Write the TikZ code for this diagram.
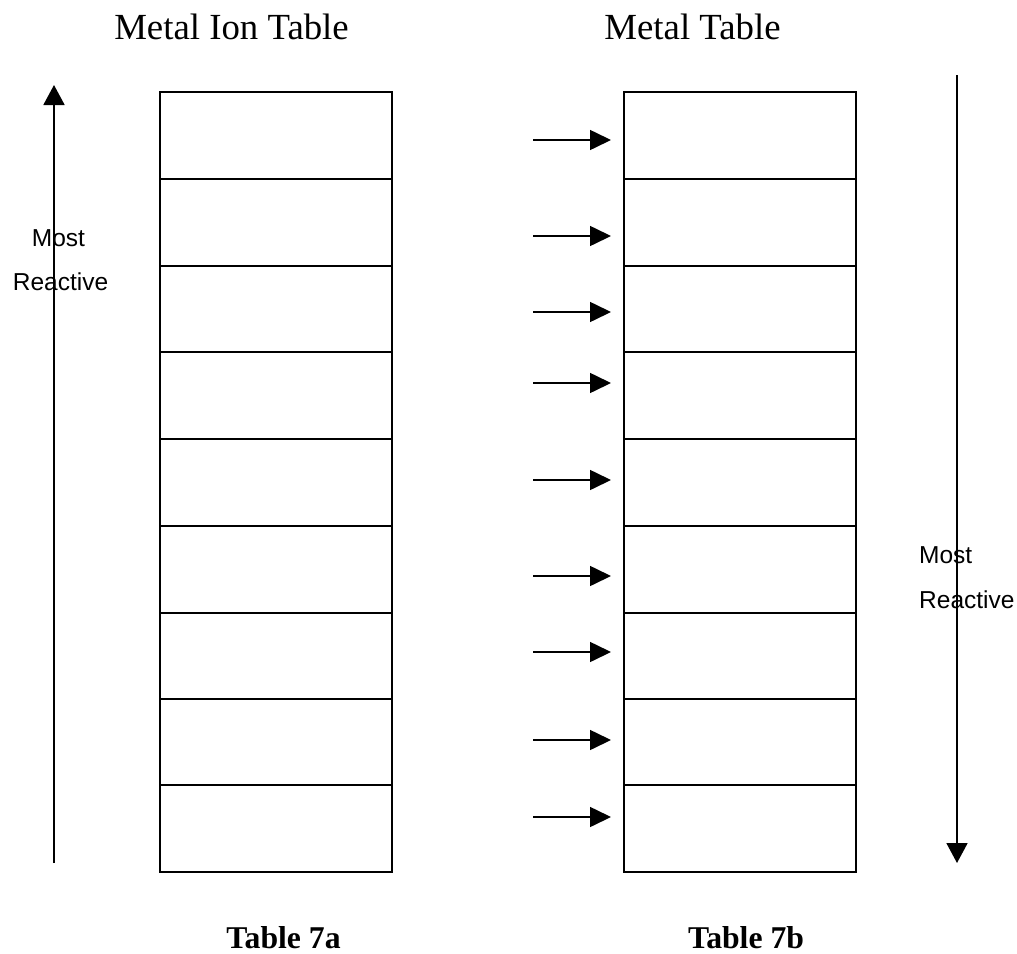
\documentclass[tikz,border=0pt]{standalone}
\usepackage{fontspec}
\setmainfont{Liberation Serif}
\newfontfamily\arialfont{Liberation Sans}
\usetikzlibrary{arrows.meta}
\tikzset{
  cell/.style={draw, line width=2pt, minimum width=232pt, inner sep=0pt},
  title/.style={anchor=base, inner sep=0pt, font=\fontsize{36.8}{44}\selectfont},
  caption/.style={anchor=base, inner sep=0pt, font=\fontsize{31.7}{38}\selectfont\bfseries},
  side/.style={anchor=base west, inner sep=0pt, font=\arialfont\fontsize{24.5}{30}\selectfont},
  longarrow/.style={line width=1.8pt, -{Triangle[length=20pt,width=21pt]}},
  shortarrow/.style={line width=1.6pt, -{Triangle[length=21pt,width=20pt]}}
}
\begin{document}
\begin{tikzpicture}[x=1pt,y=-1pt]
\useasboundingbox (0,0) rectangle (1017,953);
% titles
\node[title] (t1) at (231.5,39) {Metal Ion Table};
\node[title] (t2) at (692.5,39) {Metal Table};
% captions
\node[caption] (c1) at (283.5,948) {Table 7a};
\node[caption] (c2) at (746,948) {Table 7b};
% cells
\foreach \a/\b [count=\i] in {92/179,179/266,266/352,352/439,439/526,526/613,613/699,699/785,785/872}{
  \node[cell, minimum height={(\b-\a)*1pt}] (L\i) at (276,{(\a+\b)/2}) {};
  \node[cell, minimum height={(\b-\a)*1pt}] (R\i) at (740,{(\a+\b)/2}) {};
}
% side labels
\node[side] (lm) at (31.7,246) {Most};
\node[side] (lr) at (12.7,290) {Reactive};
\node[side] (rm) at (919,563) {Most};
\node[side] (rr) at (919,608) {Reactive};
% long arrows
\coordinate (la0) at (54,863);
\coordinate (la1) at (54,85);
\draw[longarrow] (la0) -- (la1);
\coordinate (ra0) at (957,75);
\coordinate (ra1) at (957,863);
\draw[longarrow] (ra0) -- (ra1);
% short arrows
\foreach \y [count=\k] in {140,236,312,383,480,576,652,740,817}{
  \coordinate (s\k) at (533,\y);
  \coordinate (e\k) at (611,\y);
  \draw[shortarrow] (s\k) -- (e\k);
}
\end{tikzpicture}
\end{document}
